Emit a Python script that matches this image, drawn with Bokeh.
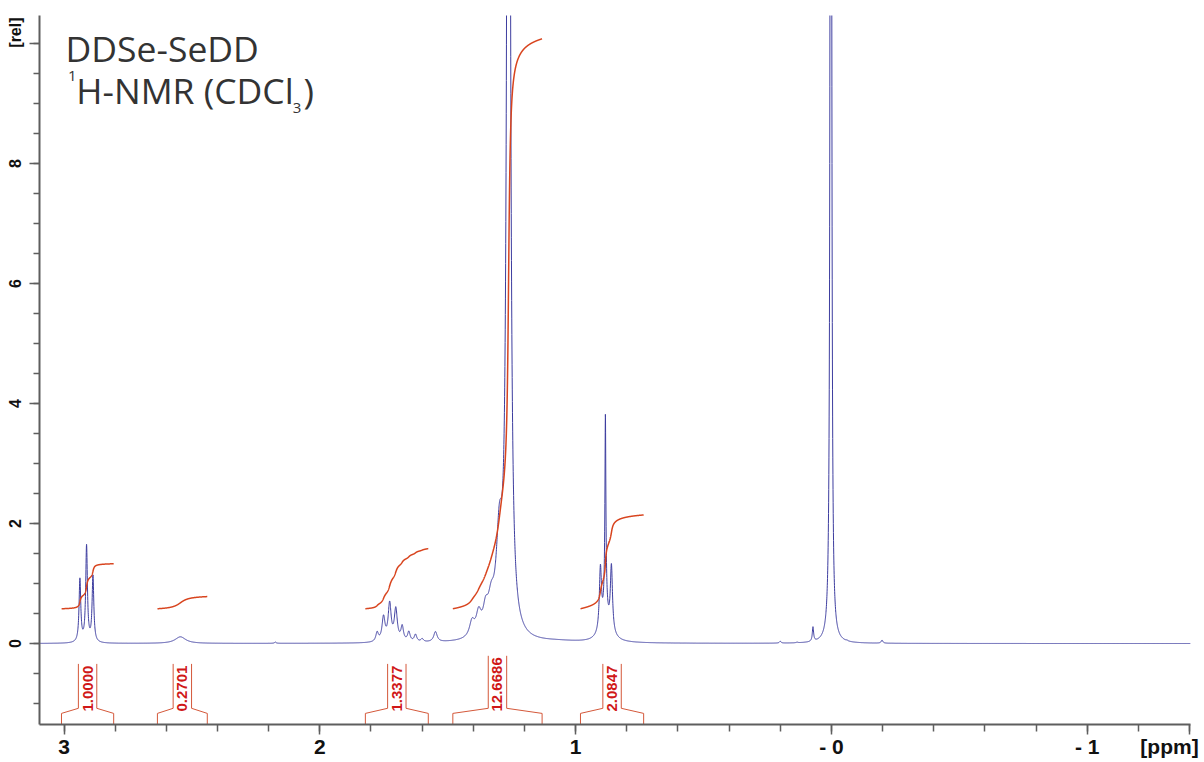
import numpy as np
from bokeh.plotting import figure
from bokeh.models import Range1d, FixedTicker, Label
from bokeh.embed import file_html
from bokeh.resources import INLINE
from bokeh.core.properties import value

# ---------------- data ----------------
x_start, x_end = 3.096, -1.404          # ppm (reversed axis)
y_start, y_end = -1.35, 10.47           # rel

# peak list: position (ppm), height (rel), half width at half height (ppm)
peak_ppm = [2.938, 2.912, 2.887, 2.545, 2.174,
            1.776, 1.751, 1.727, 1.703, 1.678, 1.652, 1.626, 1.600, 1.548,
            1.405, 1.379, 1.352, 1.330, 1.298, 1.262, 1.070,
            0.903, 0.8835, 0.8835, 0.882, 0.860,
            0.200, 0.134, 0.072, 0.002, -0.061, -0.198]
peak_height = [1.05, 1.60, 1.10, 0.11, 0.02,
               0.15, 0.40, 0.62, 0.53, 0.24, 0.16, 0.12, 0.05, 0.17,
               0.25, 0.35, 0.35, 0.45, 1.50, 32.0, 0.025,
               1.05, 2.70, 0.75, 0.25, 1.10,
               0.03, 0.01, 0.24, 40.0, 0.01, 0.05]
peak_hwhm = [0.004, 0.004, 0.004, 0.025, 0.004,
             0.006, 0.007, 0.007, 0.007, 0.006, 0.006, 0.006, 0.006, 0.008,
             0.012, 0.012, 0.012, 0.015, 0.015, 0.0055, 0.10,
             0.005, 0.002, 0.006, 0.025, 0.005,
             0.004, 0.004, 0.003, 0.0022, 0.004, 0.004]

# integral regions (ppm) and values
int_start = [3.010, 2.635, 1.822, 1.480, 0.981]
int_end = [2.806, 2.440, 1.576, 1.131, 0.734]
int_value = [1.0000, 0.2701, 1.3377, 12.6686, 2.0847]
int_label = ["1.0000", "0.2701", "1.3377", "12.6686", "2.0847"]

NB = "\u00a0"
x_major = [3, 2, 1, 0, -1, -1.4]
x_minor = [round(3.0 - 0.2 * i, 1) for i in range(23)]
x_labels = {3: "3", 2: "2", 1: "1", 0: "- 0", -1: "- 1", -1.4: "[ppm]" + NB}
y_major = [0, 2, 4, 6, 8, 10]
y_minor = [-1.0 + 0.5 * i for i in range(23)]
y_labels = {10: NB * 5 + "[rel]"}

# ---------------- build ----------------
ppm = np.linspace(x_start, x_end, 11251)
pos = np.array(peak_ppm)[:, None]
hh = np.array(peak_height)[:, None]
gg = np.array(peak_hwhm)[:, None]
spec = (hh * gg ** 2 / (gg ** 2 + (ppm[None, :] - pos) ** 2)).sum(axis=0)

p = figure(width=1204, height=762, output_backend="svg", toolbar_location=None,
           x_range=Range1d(x_start, x_end), y_range=Range1d(y_start, y_end),
           min_border_left=39, min_border_right=14, min_border_top=15, min_border_bottom=38)
p.grid.visible = False
p.outline_line_color = None
p.background_fill_color = "white"
p.border_fill_color = "white"

AX = "#5e5e5e"
for ax in (p.xaxis[0], p.yaxis[0]):
    ax.axis_line_color = AX
    ax.axis_line_width = 2
    ax.major_tick_line_color = AX
    ax.minor_tick_line_color = AX
    ax.major_tick_line_width = 1.5
    ax.minor_tick_line_width = 1.5
    ax.major_tick_in = 0
    ax.minor_tick_in = 0
    ax.major_tick_out = 10
    ax.minor_tick_out = 6
    ax.major_label_text_font = "Liberation Sans"
    ax.major_label_text_font_style = "bold"
    ax.major_label_text_color = "#111111"

p.xaxis.ticker = FixedTicker(ticks=x_major, minor_ticks=x_minor)
p.xaxis.major_label_overrides = x_labels
p.xaxis.major_label_text_font_size = "21px"
p.xaxis.major_label_standoff = 0
p.xaxis.minor_tick_out = 7

p.yaxis.ticker = FixedTicker(ticks=y_major, minor_ticks=y_minor)
p.yaxis.major_label_overrides = y_labels
p.yaxis.major_label_text_font_size = "16px"
p.yaxis.major_label_orientation = "vertical"
p.yaxis.major_label_standoff = 5

# spectrum
p.line(ppm, spec, line_color="#3d3d9f", line_width=1)

# integrals
int_offset, int_scale = 0.58, 0.75
lab_y = -1.133
bx, by = [], []
for a, b, v, s in zip(int_start, int_end, int_value, int_label):
    m = (ppm <= a) & (ppm >= b)
    xs = ppm[m]
    ys = spec[m]
    cum = np.concatenate([[0.0], np.cumsum(0.5 * (ys[1:] + ys[:-1]) * np.abs(np.diff(xs)))])
    curve = int_offset + int_scale * v * cum / cum[-1]
    p.line(xs, curve, line_color="#d8441e", line_width=1.5)
    c = 0.5 * (a + b)
    top = lab_y + (8.1 * len(s) - 1) / 60.0
    w = 0.036
    bx.append([a, a, c + w, c + w])
    by.append([y_start, -1.165, -1.08, top])
    bx.append([c - w, c - w, b, b])
    by.append([top, -1.08, -1.165, y_start])

p.multi_line(bx, by, line_color="#d4583a", line_width=1)
p.text(x=[0.5 * (a + b) for a, b in zip(int_start, int_end)], y=[lab_y] * len(int_label),
       text=int_label, angle=np.pi / 2, text_align="left", text_baseline="middle",
       text_font=value("Liberation Sans"), text_font_style="bold",
       text_font_size="15px", text_color="#d01818")

# title texts
TC = "#333333"
FONT = "Open Sans"
p.add_layout(Label(x=2.994, y=9.933, text="DDSe-SeDD", text_font=FONT, text_font_size="35.5px",
                   text_color=TC, text_baseline="alphabetic", text_align="left"))
p.add_layout(Label(x=2.985, y=9.467, text="1", text_font=FONT, text_font_size="15px",
                   text_color=TC, text_baseline="alphabetic", text_align="left"))
p.add_layout(Label(x=2.952, y=9.228, text="H-NMR (CDCl", text_font=FONT, text_font_size="35.5px",
                   text_color=TC, text_baseline="alphabetic", text_align="left"))
p.add_layout(Label(x=2.106, y=8.933, text="3", text_font=FONT, text_font_size="15px",
                   text_color=TC, text_baseline="alphabetic", text_align="left"))
p.add_layout(Label(x=2.064, y=9.228, text=")", text_font=FONT, text_font_size="35.5px",
                   text_color=TC, text_baseline="alphabetic", text_align="left"))

open("out.html", "w").write(file_html(p, INLINE))
